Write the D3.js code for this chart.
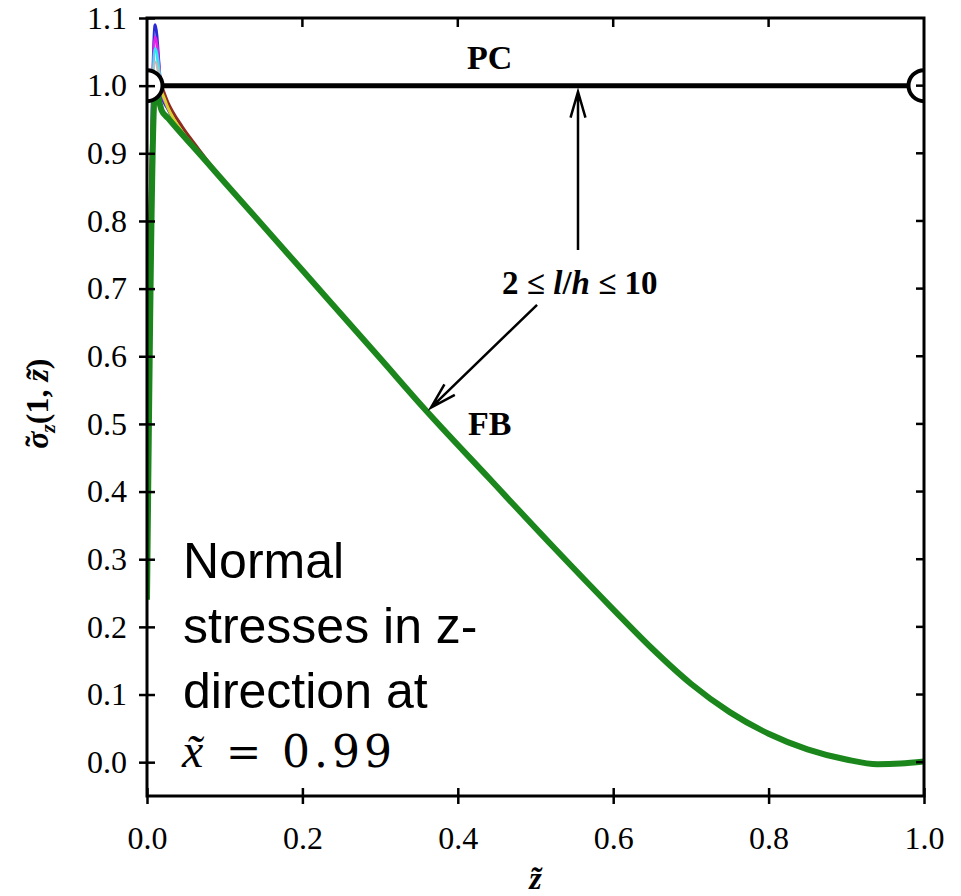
<!DOCTYPE html>
<html>
<head>
<meta charset="utf-8">
<script src="https://cdn.jsdelivr.net/npm/d3@7"></script>
<style>
  body { margin: 0; background: #fff; }
</style>
</head>
<body>
<svg id="chart" width="961" height="896"></svg>
<script>
// z positions near the free edge, where the l/h curves differ
const zHead = [0, 0.0105, 0.019, 0.027, 0.045, 0.06];
// sigma_z at those positions, one array per l/h (thin lines)
const lh2 = [0.37, 1.09, 0.985, 0.965, 0.932, 0.911];
const lh3 = [0.42, 1.072, 0.99, 0.968, 0.933, 0.911];
const lh4 = [0.47, 1.055, 0.993, 0.97, 0.934, 0.912];
const lh5 = [0.53, 1.035, 0.996, 0.972, 0.935, 0.912];
const lh6 = [0.62, 1.015, 0.998, 0.975, 0.94, 0.916];
const lh8 = [0.3, 1.0, 0.99, 0.967, 0.932, 0.911];
const lh10 = [0.24, 0.995, 0.963, 0.952, 0.928, 0.909];

// shared part of all curves away from the edge
const zTail = [0.1, 0.2, 0.3, 0.355, 0.44, 0.523, 0.6, 0.65, 0.7, 0.75, 0.8, 0.85, 0.9, 0.94, 0.97, 1.0];
const sTail = [0.857, 0.727, 0.597, 0.525, 0.42, 0.318, 0.226, 0.168, 0.116, 0.074, 0.042, 0.019, 0.004, -0.003, -0.002, 0.001];

// perfectly clamped reference
const pcZ = [0, 1];
const pcS = [1, 1];

const thinColors = ["#2a2ad8", "#e81ee8", "#2ee8f0", "#bdbdbd", "#8e2a20", "#d8d030"];
const xTicks = [0, 0.2, 0.4, 0.6, 0.8, 1.0];
const yTicks = [0, 0.1, 0.2, 0.3, 0.4, 0.5, 0.6, 0.7, 0.8, 0.9, 1.0, 1.1];

let serif = "'Times New Roman', 'Liberation Serif', serif";

let svg = d3.select("#chart");

let margin = { left: 147, right: 37, top: 18, bottom: 100 };
let width = 961 - margin.left - margin.right;
let height = 896 - margin.top - margin.bottom;

let x = d3.scaleLinear().domain([0, 1]).range([margin.left, margin.left + width]);
let y = d3.scaleLinear().domain([-0.05, 1.1]).range([margin.top + height, margin.top]);

svg.append("clipPath")
  .attr("id", "plotclip")
  .append("rect")
  .attr("x", x(0))
  .attr("y", y(1.1))
  .attr("width", x(1) - x(0))
  .attr("height", y(-0.05) - y(1.1));

let toPoints = (head) => {
  let pts = zHead.map((z, i) => [z, head[i]]);
  return pts.concat(zTail.map((z, i) => [z, sTail[i]]));
};

let line = d3.line()
  .x((d) => x(d[0]))
  .y((d) => y(d[1]))
  .curve(d3.curveMonotoneX);

let plot = svg.append("g").attr("clip-path", "url(#plotclip)");

let thin = [lh2, lh3, lh4, lh5, lh6, lh8];
plot.append("g")
  .selectAll(".thin")
  .data(thin)
  .join("path")
  .attr("class", "thin")
  .attr("d", (d) => line(toPoints(d)))
  .style("fill", "none")
  .style("stroke", (d, i) => thinColors[i])
  .style("stroke-width", 3)
  .style("stroke-linejoin", "round");

plot.append("path")
  .attr("d", line(toPoints(lh10)))
  .style("fill", "none")
  .style("stroke", "#1b861b")
  .style("stroke-width", 6)
  .style("stroke-linejoin", "round");

// PC line with the end circles
plot.append("line")
  .attr("x1", x(pcZ[0]))
  .attr("x2", x(pcZ[1]))
  .attr("y1", y(pcS[0]))
  .attr("y2", y(pcS[1]))
  .style("stroke", "black")
  .style("stroke-width", 5);

plot.selectAll(".pc-dot")
  .data(pcZ)
  .join("circle")
  .attr("class", "pc-dot")
  .attr("cx", (d) => x(d))
  .attr("cy", (d, i) => y(pcS[i]))
  .attr("r", 15.5)
  .style("fill", "white")
  .style("stroke", "black")
  .style("stroke-width", 4);

// frame
svg.append("rect")
  .attr("x", x(0))
  .attr("y", y(1.1))
  .attr("width", x(1) - x(0))
  .attr("height", y(-0.05) - y(1.1))
  .style("fill", "none")
  .style("stroke", "black")
  .style("stroke-width", 3);

let gy = svg.append("g")
  .attr("transform", `translate(${x(0)},0)`)
  .call(d3.axisLeft(y).tickValues(yTicks).tickSize(8).tickPadding(12).tickFormat(d3.format(".1f")));
gy.select(".domain").remove();
gy.selectAll(".tick line").attr("x1", 8).style("stroke-width", 2.5);
gy.attr("font-family", serif).attr("font-size", 32);

let gx = svg.append("g")
  .attr("transform", `translate(0,${y(-0.05)})`)
  .call(d3.axisBottom(x).tickValues(xTicks).tickSize(8).tickPadding(22).tickFormat(d3.format(".1f")));
gx.select(".domain").remove();
gx.selectAll(".tick line").attr("y1", -8).style("stroke-width", 2.5);
gx.attr("font-family", serif).attr("font-size", 32);

// inward ticks on top and right
svg.append("g")
  .selectAll("line")
  .data(xTicks.slice(1, -1))
  .join("line")
  .attr("x1", (d) => x(d))
  .attr("x2", (d) => x(d))
  .attr("y1", y(1.1))
  .attr("y2", y(1.1) + 9)
  .style("stroke", "black")
  .style("stroke-width", 2.5);

svg.append("g")
  .selectAll("line")
  .data(yTicks.slice(0, -1))
  .join("line")
  .attr("x1", x(1))
  .attr("x2", x(1) - 8)
  .attr("y1", (d) => y(d))
  .attr("y2", (d) => y(d))
  .style("stroke", "black")
  .style("stroke-width", 2.5);

// axis titles
let ylab = svg.append("text")
  .attr("transform", `translate(48,${y(0.53)}) rotate(-90)`)
  .attr("text-anchor", "middle")
  .style("font-family", serif)
  .style("font-size", "32px")
  .style("font-weight", "bold");
ylab.append("tspan").style("font-style", "italic").text("σ");
ylab.append("tspan").attr("dx", -15).attr("dy", -1).text("\u02DC");
ylab.append("tspan").style("font-style", "italic").style("font-size", "22px").attr("dx", 3).attr("dy", 8).text("z");
ylab.append("tspan").attr("dy", -7).text("(1, ");
ylab.append("tspan").style("font-style", "italic").text("z\u0303");
ylab.append("tspan").text(")");

svg.append("text")
  .attr("x", x(0.5))
  .attr("y", 889)
  .attr("text-anchor", "middle")
  .style("font-family", serif)
  .style("font-size", "32px")
  .style("font-weight", "bold")
  .style("font-style", "italic")
  .text("z\u0303");

// annotations
let notes = [
  { z: 0.441, s: 1.025, t: "PC", anchor: "middle" },
  { z: 0.413, s: 0.484, t: "FB", anchor: "start" }
];
svg.selectAll(".note")
  .data(notes)
  .join("text")
  .attr("class", "note")
  .attr("x", (d) => x(d.z))
  .attr("y", (d) => y(d.s))
  .attr("text-anchor", (d) => d.anchor)
  .style("font-family", serif)
  .style("font-size", "34px")
  .style("font-weight", "bold")
  .text((d) => d.t);

let range = svg.append("text")
  .attr("x", x(0.457))
  .attr("y", y(0.692))
  .style("font-family", serif)
  .style("font-size", "33px")
  .style("font-weight", "bold");
range.append("tspan").text("2 ≤ ");
range.append("tspan").style("font-style", "italic").text("l");
range.append("tspan").text("/");
range.append("tspan").style("font-style", "italic").text("h");
range.append("tspan").text(" ≤ 10");

let arrows = [
  { from: [0.5547, 0.757], to: [0.5547, 0.991] },
  { from: [0.502, 0.676], to: [0.3655, 0.524] }
];
arrows.forEach((a) => {
  let x0 = x(a.from[0]), y0 = y(a.from[1]);
  let x1 = x(a.to[0]), y1 = y(a.to[1]);
  let ang = Math.atan2(y1 - y0, x1 - x0);
  let len = 27, spread = 0.28;
  let p = d3.path();
  p.moveTo(x0, y0);
  p.lineTo(x1, y1);
  p.moveTo(x1 - len * Math.cos(ang - spread), y1 - len * Math.sin(ang - spread));
  p.lineTo(x1, y1);
  p.lineTo(x1 - len * Math.cos(ang + spread), y1 - len * Math.sin(ang + spread));
  svg.append("path")
    .attr("d", p.toString())
    .style("fill", "none")
    .style("stroke", "black")
    .style("stroke-width", 2.5);
});

// description block
let desc = ["Normal", "stresses in z-", "direction at"];
svg.selectAll(".desc")
  .data(desc)
  .join("text")
  .attr("class", "desc")
  .attr("x", 183)
  .attr("y", (d, i) => 578 + i * 65)
  .style("font-family", "Arial, 'Liberation Sans', sans-serif")
  .style("font-size", "50px")
  .text((d) => d);

let mathFont = "'DejaVu Serif', serif";
let eq = svg.append("text")
  .attr("x", 182)
  .attr("y", 767);
eq.append("tspan")
  .style("font-family", serif)
  .style("font-style", "italic")
  .style("font-size", "48px")
  .text("x\u0303");
eq.append("tspan")
  .attr("x", 226)
  .style("font-family", mathFont)
  .style("font-size", "42px")
  .text("=");
eq.append("tspan")
  .attr("x", 282)
  .attr("letter-spacing", 4)
  .style("font-family", mathFont)
  .style("font-size", "44px")
  .text("0.99");
</script>
</body>
</html>
